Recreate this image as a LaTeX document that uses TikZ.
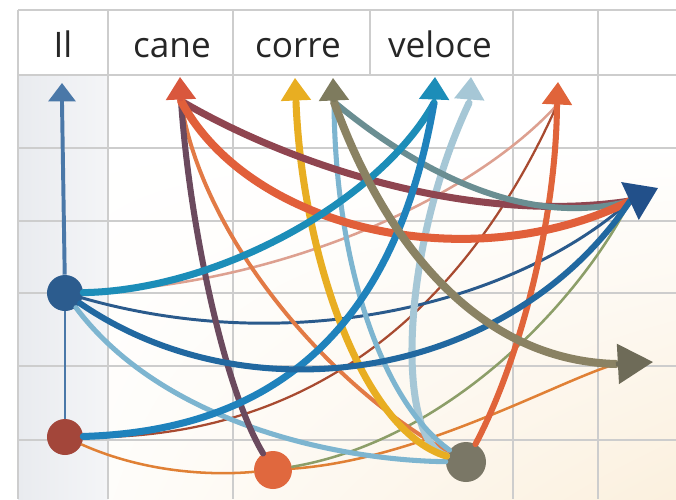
\documentclass[tikz,border=0pt]{standalone}
\usepackage{fontspec}
\setmainfont{Open Sans}
\usetikzlibrary{arrows.meta,shadings}

\definecolor{grigio}{HTML}{CDCDCD}
\definecolor{testo}{HTML}{262626}
\definecolor{crema}{HTML}{FBF0DE}
\definecolor{colonna}{HTML}{E9EBEF}
\definecolor{bluIl}{HTML}{4A78A8}
\definecolor{bluPunto}{HTML}{2C5C8E}
\definecolor{rossoPunto}{HTML}{A3463A}
\definecolor{aranPunto}{HTML}{E0683E}
\definecolor{oliPunto}{HTML}{7A7766}
\definecolor{rossoCane}{HTML}{D9573D}
\definecolor{prugna}{HTML}{6B4A5E}
\definecolor{aranc}{HTML}{E27A45}
\definecolor{bordo}{HTML}{8F4550}
\definecolor{arancRosso}{HTML}{E15F3A}
\definecolor{giallo}{HTML}{E8AE22}
\definecolor{oliva}{HTML}{8A8263}
\definecolor{olivaPunta}{HTML}{7E7B5E}
\definecolor{grigioTeal}{HTML}{6A8E92}
\definecolor{azzurro}{HTML}{7DB5D0}
\definecolor{teal}{HTML}{1C8DB8}
\definecolor{bluForte}{HTML}{1F82BC}
\definecolor{celeste}{HTML}{A6C7D6}
\definecolor{aranVuoto}{HTML}{E0643A}
\definecolor{salmone}{HTML}{DDA090}
\definecolor{rossoScuro}{HTML}{A84A30}
\definecolor{navy}{HTML}{2A5A8C}
\definecolor{bluArco}{HTML}{2168A0}
\definecolor{verdeOliva}{HTML}{8C9E68}
\definecolor{aranTenue}{HTML}{E08035}
\definecolor{bluDx}{HTML}{22508A}
\definecolor{grigioDx}{HTML}{6E6B58}

\begin{document}
\begin{tikzpicture}[x=0.025cm,y=-0.025cm,
    linea/.style={grigio, line width=1.1pt},
    parola/.style={anchor=base, text=testo, font=\fontsize{25}{30}\selectfont},
    punto/.style={circle, inner sep=0pt, minimum size=0.9cm},
    arco/.style={line cap=round},
    punta/.style={line width=2.5pt, -{Triangle[length=16pt,width=21pt]}},
    puntaDx/.style={line width=3pt, -{Triangle[length=22pt,width=29pt]}}]
  \useasboundingbox (0,0) rectangle (676,499);
  \fill[white] (0,0) rectangle (676,499);
  \shade[upper left=white, upper right=white, lower left=white, lower right=crema] (0,140) rectangle (676,499);
  \shade[left color=colonna, right color=colonna!50] (18,75) rectangle (108,499);

  \foreach \y in {75,148,221,293,366,440}
    \draw[linea] (18,\y) -- (676,\y);
  \foreach \x in {18,108,233,513,598}
    \draw[linea] (\x,75) -- (\x,499);
  \foreach \x in {18,108,233,370,513,598}
    \draw[linea] (\x,10) -- (\x,75);
  \draw[linea] (18,10) -- (676,10);

  \node[parola] (hIl) at (63,58) {Il};
  \node[parola] (hCane) at (172,58) {cane};
  \node[parola] (hCorre) at (298,58) {corre};
  \node[parola] (hVeloce) at (440,58) {veloce};

  \node[punto, fill=bluPunto] (blu) at (65,293) {};
  \node[punto, fill=rossoPunto] (ros) at (65,437) {};
  \node[punto, fill=aranPunto, minimum size=0.95cm] (ara) at (273,470) {};
  \node[punto, fill=oliPunto, minimum size=1cm] (oli) at (466,462) {};

  \coordinate (tIl) at (62,83);    \coordinate (bIl) at (62,103);
  \coordinate (tCane) at (180,77); \coordinate (bCane) at (181,101);
  \coordinate (tCorA) at (295,78); \coordinate (bCorA) at (296,102);
  \coordinate (tCorB) at (333,78); \coordinate (bCorB) at (334,102);
  \coordinate (tVelA) at (435,77); \coordinate (bVelA) at (434,103);
  \coordinate (tVelB) at (471,77); \coordinate (bVelB) at (469,103);
  \coordinate (tVuo) at (558,82);  \coordinate (bVuo) at (557,105);
  \coordinate (tDx) at (658,188);  \coordinate (bDx) at (630,201);
  \coordinate (tDxB) at (653,362); \coordinate (bDxB) at (616,364);

  \draw[bluIl, line width=2.1pt] (blu) -- (ros);
  \draw[bluIl, line width=2.8pt] (blu) -- (bIl);

  \draw[arco, salmone, line width=1.8pt] (blu) .. controls (280,285) and (470,200) .. (bVuo);
  \draw[arco, rossoScuro, line width=1.6pt] (ros) .. controls (320,440) and (470,300) .. (bVuo);
  \draw[arco, aranTenue, line width=1.8pt] (ros) .. controls (150,475) and (220,475) .. (ara);
  \draw[arco, aranTenue, line width=1.8pt] (ara) .. controls (420,460) and (560,380) .. (bDxB);
  \draw[arco, verdeOliva, line width=1.8pt] (ara) .. controls (450,440) and (580,300) .. (bDx);
  \draw[arco, navy, line width=2.1pt] (blu) .. controls (300,360) and (520,300) .. (bDx);
  \draw[arco, aranc, line width=2.8pt] (bCane) .. controls (200,230) and (320,380) .. (oli);
  \draw[arco, azzurro, line width=3.6pt] (blu) .. controls (160,420) and (330,460) .. (oli);
  \draw[arco, prugna, line width=4.3pt] (bCane) .. controls (190,230) and (225,390) .. (ara);
  \draw[arco, celeste, line width=5pt] (oli) .. controls (395,440) and (400,250) .. (bVelB);
  \draw[arco, azzurro, line width=3.6pt] (bCorB) .. controls (335,260) and (380,400) .. (oli);
  \draw[arco, giallo, line width=5pt] (bCorA) .. controls (302,250) and (360,430) .. (oli);
  \draw[arco, aranVuoto, line width=4.3pt] (oli) .. controls (520,360) and (556,220) .. (bVuo);
  \draw[arco, bordo, line width=5pt] (bCane) .. controls (290,165) and (470,225) .. (bDx);
  \draw[arco, grigioTeal, line width=4.3pt] (bCorB) .. controls (410,165) and (520,230) .. (bDx);
  \draw[arco, arancRosso, line width=5.7pt] (bCane) .. controls (250,230) and (470,280) .. (bDx);
  \draw[arco, teal, line width=5pt] (blu) .. controls (220,290) and (380,200) .. (bVelA);
  \draw[arco, bluForte, line width=5pt] (ros) .. controls (300,430) and (400,300) .. (bVelA);
  \draw[arco, bluArco, line width=4.3pt] (blu) .. controls (250,420) and (510,380) .. (bDx);
  \draw[arco, oliva, line width=5.7pt] (bCorB) .. controls (380,230) and (470,360) .. (bDxB);

  \draw[punta, bluIl, -{Triangle[length=13pt,width=19pt]}] (bIl) -- (tIl);
  \draw[punta, rossoCane] (bCane) -- (tCane);
  \draw[punta, giallo] (bCorA) -- (tCorA);
  \draw[punta, olivaPunta] (bCorB) -- (tCorB);
  \draw[punta, teal] (bVelA) -- (tVelA);
  \draw[punta, celeste] (bVelB) -- (tVelB);
  \draw[punta, aranVuoto] (bVuo) -- (tVuo);
  \draw[puntaDx, bluDx] (bDx) -- (tDx);
  \draw[puntaDx, grigioDx, -{Triangle[length=25pt,width=28pt]}] (bDxB) -- (tDxB);
\end{tikzpicture}
\end{document}
